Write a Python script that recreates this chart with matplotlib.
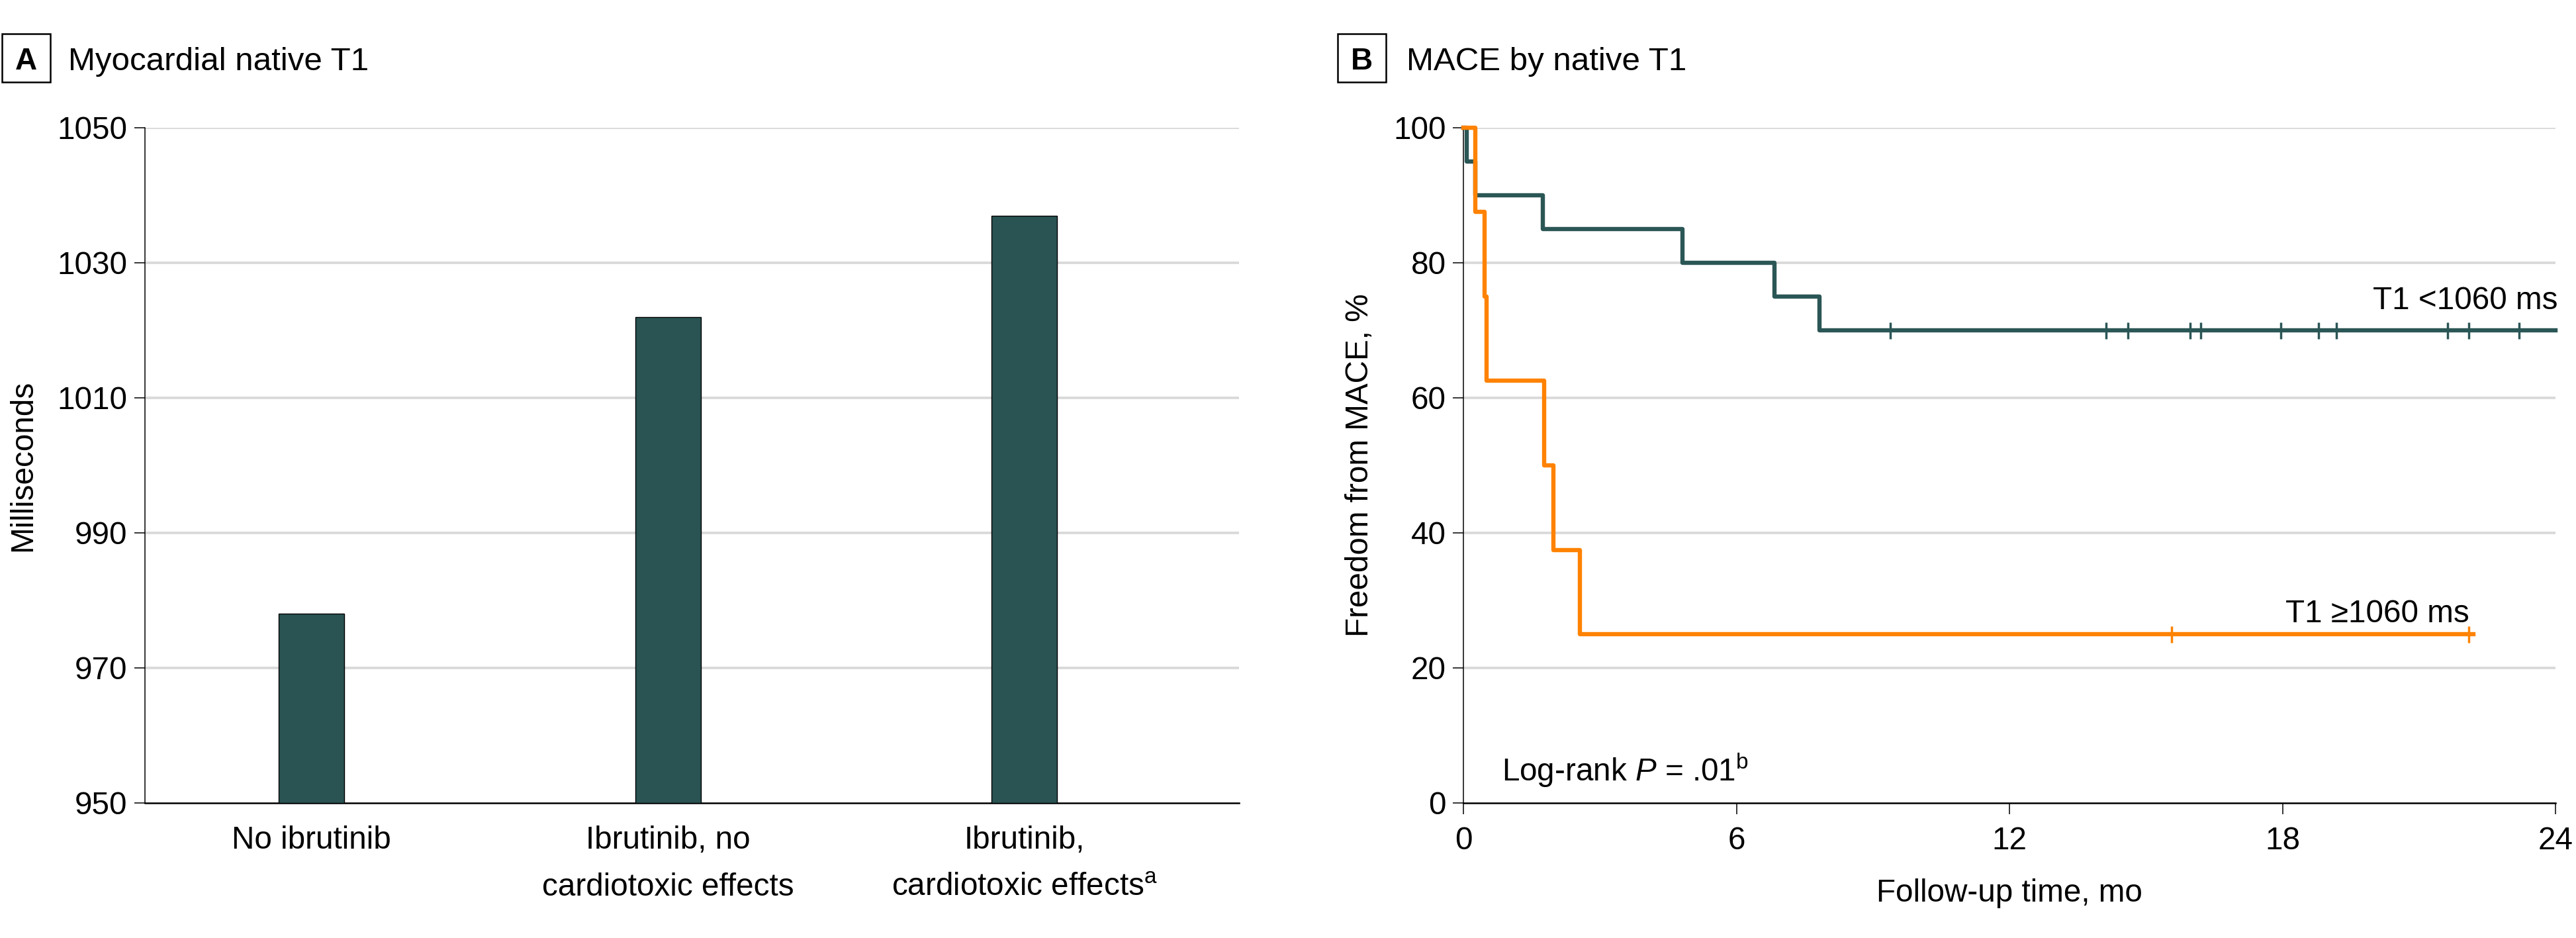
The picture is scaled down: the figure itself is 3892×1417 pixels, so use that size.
import numpy as np
import matplotlib
matplotlib.use("Agg")
import matplotlib.pyplot as plt
from matplotlib.patches import Rectangle

plt.rcParams['font.family'] = ['Liberation Sans', 'DejaVu Sans']
plt.rcParams['mathtext.fontset'] = 'custom'
plt.rcParams['mathtext.rm'] = 'Liberation Sans'
plt.rcParams['mathtext.it'] = 'Liberation Sans:italic'

# ---------------- data ----------------
categories = ["No ibrutinib",
              "Ibrutinib, no\ncardiotoxic effects",
              "Ibrutinib,\ncardiotoxic effects$^{\\rm a}$"]
native_t1_ms = [978, 1022, 1037]
yticks_a = [950, 970, 990, 1010, 1030, 1050]

low_t1_times = [0, 0.07, 0.26, 1.74, 4.82, 6.83, 7.83, 24.0]
low_t1_surv = [100, 95, 90, 85, 80, 75, 70, 70]
low_t1_censor = [9.38, 14.12, 14.61, 15.97, 16.21, 17.97, 18.79, 19.19, 21.63, 22.09, 23.20]

high_t1_times = [0, 0.26, 0.46, 0.51, 1.77, 1.98, 2.56, 22.2]
high_t1_surv = [100, 87.5, 75, 62.5, 50, 37.5, 25, 25]
high_t1_censor = [15.57, 22.09]

xticks_b = [0, 6, 12, 18, 24]
yticks_b = [0, 20, 40, 60, 80, 100]

# ---------------- style ----------------
BAR = "#2A5353"
GREEN = "#2B5656"
ORANGE = "#FF8200"
GRID = "#D9D9D9"
FS = 34.3

W, H = 3892, 1417
fig = plt.figure(figsize=(W / 100, H / 100), dpi=100)


def fx(px):
    return px / W


def fy(py):
    return 1 - py / H


axA = fig.add_axes([fx(219), fy(1213), fx(1872 - 219), (1213 - 193) / H])
axB = fig.add_axes([fx(2211), fy(1213), fx(3861 - 2211), (1213 - 193) / H])

for ax in (axA, axB):
    for s in ("top", "right"):
        ax.spines[s].set_visible(False)
    ax.spines["left"].set_linewidth(1.1)
    ax.spines["bottom"].set_linewidth(1.8)
    ax.tick_params(axis="y", direction="out", length=11.5, width=1.1,
                   labelsize=FS, pad=7.5)
    ax.set_axisbelow(True)

# ---------------- panel A ----------------
x = np.arange(len(categories))
axA.bar(x, [v - yticks_a[0] for v in native_t1_ms], bottom=yticks_a[0],
        width=0.184, color=BAR, edgecolor="black", linewidth=1.0, zorder=3)
axA.set_xlim(-0.467, 2.602)
axA.set_ylim(yticks_a[0], yticks_a[-1])
axA.set_yticks(yticks_a)
axA.set_xticks(x)
axA.set_xticklabels(categories, fontsize=FS, linespacing=1.75)
axA.tick_params(axis="x", length=0, pad=24.5)
for t in yticks_a[1:]:
    axA.axhline(t, color=GRID, lw=2.7, zorder=1)
axA.set_ylabel("Milliseconds", fontsize=FS)
axA.yaxis.set_label_coords(-0.098, 0.5)

# ---------------- panel B ----------------


def surv_at(times, surv, t):
    idx = np.searchsorted(times, t, side="right") - 1
    return [surv[i] for i in idx]


for t in yticks_b[1:]:
    axB.axhline(t, color=GRID, lw=2.7, zorder=1)

axB.step(low_t1_times, low_t1_surv, where="post", color=GREEN, lw=4.6,
         clip_on=False, zorder=3)
axB.plot(low_t1_censor, surv_at(low_t1_times, low_t1_surv, low_t1_censor),
         ls="none", marker="|", ms=18, mew=2.5, color=GREEN, clip_on=False,
         zorder=3)
axB.step(high_t1_times, high_t1_surv, where="post", color=ORANGE, lw=4.6,
         clip_on=False, zorder=4)
axB.plot(high_t1_censor, surv_at(high_t1_times, high_t1_surv, high_t1_censor),
         ls="none", marker="|", ms=18, mew=2.5, color=ORANGE, clip_on=False,
         zorder=4)

axB.set_xlim(xticks_b[0], xticks_b[-1])
axB.set_ylim(yticks_b[0], yticks_b[-1])
axB.set_xticks(xticks_b)
axB.set_yticks(yticks_b)
axB.tick_params(axis="x", direction="out", length=12, width=1.1,
                labelsize=FS, pad=13.5)
axB.set_xlabel("Follow-up time, mo", fontsize=FS, labelpad=24)
axB.set_ylabel("Freedom from MACE, %", fontsize=FS)
axB.yaxis.set_label_coords(-0.081, 0.5)

axB.text(24.05, 73.1, "T1 <1060 ms", fontsize=FS, ha="right", va="baseline")
axB.text(22.1, 26.8, "T1 \u22651060 ms", fontsize=FS, ha="right", va="baseline")
axB.text(0.85, 3.2, "Log-rank $\\it{P}$ = .01$^{\\rm b}$", fontsize=FS,
         ha="left", va="baseline")

# ---------------- panel titles ----------------
for (bx0, bx1, letter, tx, title) in [(3, 76, "A", 103, "Myocardial native T1"),
                                       (2021, 2094, "B", 2125, "MACE by native T1")]:
    fig.patches.append(Rectangle((fx(bx0), fy(124)), fx(bx1 - bx0), (124 - 51) / H,
                                 transform=fig.transFigure, fill=False,
                                 ec="black", lw=1.8))
    fig.text(fx((bx0 + bx1) / 2), fy(105), letter, fontsize=33,
             fontweight="bold", ha="center", va="baseline")
    fig.text(fx(tx), fy(106), title, fontsize=35.5, ha="left", va="baseline")

fig.savefig("out.png", dpi=100)
